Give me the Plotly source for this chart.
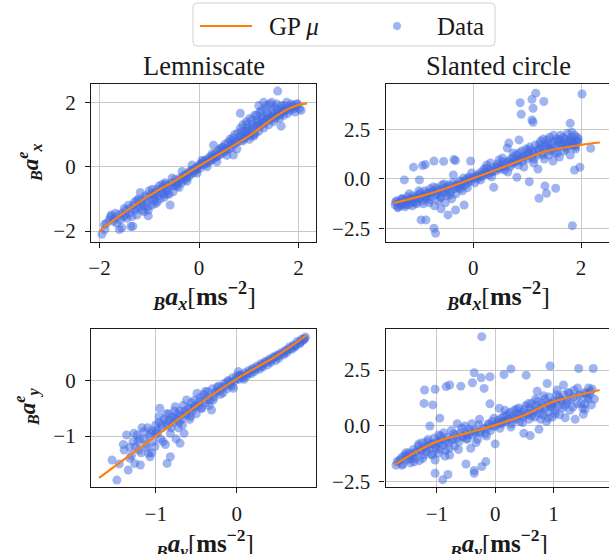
import plotly.graph_objects as go

# ---------------- data ----------------
# Panel 1: Lemniscate, x-axis (B a_x -> B a_x^e)
lem_x_data = [-1.95,-1.89,-1.86,-1.76,-1.7,-1.65,-1.6,-1.55,-1.55,-1.5,-1.45,-1.42,-1.4,-1.37,-1.33,-1.3,-1.28,-1.25,-1.22,-1.2,-1.18,-1.15,-1.1,-1.08,-1.05,-1.02,-1.02,-1.0,-0.98,-0.95,-0.92,-0.9,-0.88,-0.85,-0.82,-0.8,-0.78,-0.75,-0.72,-0.7,-0.68,-0.65,-0.62,-0.6,-0.58,-0.55,-0.52,-0.5,-0.48,-0.45,-0.42,-0.4,-0.38,-0.35,-0.32,-0.3,-0.28,-0.25,-0.22,-0.2,-0.18,-0.15,-0.12,-0.1,-0.08,-0.05,-0.03,0.0,0.02,0.05,0.08,0.1,0.12,0.15,0.18,0.2,0.22,0.25,0.28,0.29,0.3,0.33,0.35,0.38,0.4,0.42,0.45,0.48,0.5,0.52,0.55,0.58,0.6,0.62,0.65,0.68,0.69,0.7,0.72,0.75,0.78,0.8,0.83,0.83,0.85,0.88,0.9,0.92,0.95,0.95,0.98,1.0,1.02,1.05,1.08,1.1,1.12,1.15,1.18,1.2,1.2,1.22,1.25,1.28,1.3,1.3,1.33,1.35,1.38,1.4,1.42,1.45,1.48,1.5,1.52,1.55,1.58,1.6,1.62,1.65,1.68,1.7,1.75,1.8,1.85,1.9,1.95,2.02,
              -1.8,-1.72,-1.62,-1.52,-1.47,-1.38,-1.32,-1.26,-1.16,-1.12,-1.06,-0.96,-0.9,-0.86,-0.76,-0.7,-0.66,-0.56,-0.46,-0.36,-0.26,-0.16,-0.06,0.04,0.14,0.24,0.34,0.44,0.54,0.64,0.74,0.82,0.87,0.93,0.97,1.03,1.07,1.13,1.17,1.23,1.27,1.33,1.37,1.43,1.47,1.53,1.57,1.63,1.67,1.72,1.78,1.83,1.88,1.93,1.98,2.05]
lem_x_err = [-2.1,-1.95,-1.76,-1.5,-1.6,-1.75,-1.95,-1.9,-1.45,-1.3,-1.6,-1.2,-1.45,-1.86,-1.85,-1.1,-1.35,-1.5,-1.0,-1.25,-0.8,-1.15,-1.4,-0.9,-1.1,-1.53,-1.35,-0.75,-1.0,-1.2,-0.85,-0.95,-1.15,-0.7,-0.9,-0.6,-1.0,-0.8,-0.65,-0.95,-0.5,-0.75,-0.6,-0.85,-1.19,-0.5,-0.78,-0.6,-0.4,-0.55,-0.45,-0.65,-0.35,-0.5,-0.3,-0.42,-0.25,-0.35,-0.2,-0.3,-0.15,-0.22,-0.1,-0.18,-0.05,-0.1,0.0,0.05,-0.05,0.1,0.15,0.05,0.2,0.1,0.25,0.15,0.3,0.2,0.35,0.67,0.25,0.4,0.3,0.5,0.35,0.55,0.4,0.6,0.45,0.7,0.5,0.75,0.55,0.85,0.6,0.9,0.36,0.7,1.0,0.75,1.05,0.8,1.66,1.2,0.9,1.3,0.85,1.1,1.4,0.95,1.2,1.0,1.5,1.15,1.3,0.95,1.6,1.25,1.45,1.9,1.1,1.7,1.35,1.55,2.0,1.2,1.8,1.45,1.65,1.3,1.95,1.55,1.75,1.4,1.85,1.6,2.35,1.7,1.5,1.26,1.8,1.6,1.75,1.85,1.95,1.8,1.85,1.8,
             -1.65,-1.7,-1.5,-1.55,-1.35,-1.3,-1.2,-1.3,-1.05,-1.2,-0.95,-0.85,-1.05,-0.8,-0.7,-0.85,-0.55,-0.6,-0.5,-0.4,-0.28,-0.12,-0.08,0.08,0.15,0.22,0.32,0.48,0.55,0.7,0.8,0.95,0.8,1.05,1.1,0.95,1.2,1.05,1.35,1.25,1.5,1.4,1.55,1.45,1.65,1.5,1.8,1.65,1.7,1.9,1.65,1.75,1.9,1.7,1.95,1.75]
lem_x_data_b = [-1.9,-1.78,-1.68,-1.58,-1.48,-1.35,-1.24,-1.14,-1.04,-0.94,-0.84,-0.74,-0.64,-0.54,-0.44,-0.34,-0.24,-0.14,-0.04,0.06,0.16,0.26,0.36,0.46,0.56,0.66,0.76,0.86,0.91,0.96,1.01,1.06,1.11,1.16,1.21,1.26,1.31,1.36,1.41,1.46,1.51,1.56,1.61,1.66,1.71,1.76,1.86,1.96]
lem_x_err_b = [-1.8,-1.55,-1.45,-1.65,-1.5,-1.55,-1.05,-1.35,-1.25,-0.7,-1.1,-0.55,-0.85,-0.35,-0.6,-0.15,-0.45,0.05,-0.2,0.2,0.0,0.4,0.15,0.6,0.35,0.8,0.55,1.1,0.9,1.3,0.85,1.45,1.0,1.6,1.3,1.75,1.35,1.9,1.5,2.0,1.55,1.95,1.6,1.9,1.75,2.0,1.85,1.95]
lem_x_gp_in = [-2.0,-1.5,-1.0,-0.5,0.0,0.5,1.0,1.5,1.8,2.0,2.17]
lem_x_gp_mu = [-2.0,-1.42,-0.9,-0.45,0.02,0.48,0.95,1.52,1.8,1.92,1.97]

# Panel 2: Slanted circle, x-axis
sc_x_data = [-1.45,-1.42,-1.4,-1.38,-1.35,-1.32,-1.3,-1.28,-1.27,-1.25,-1.22,-1.2,-1.18,-1.15,-1.12,-1.11,-1.1,-1.08,-1.05,-1.02,-1.0,-1.0,-0.98,-0.97,-0.95,-0.94,-0.92,-0.9,-0.89,-0.88,-0.88,-0.85,-0.82,-0.8,-0.78,-0.75,-0.73,-0.73,-0.72,-0.7,-0.7,-0.68,-0.65,-0.62,-0.6,-0.6,-0.58,-0.55,-0.55,-0.52,-0.5,-0.48,-0.47,-0.45,-0.42,-0.4,-0.38,-0.36,-0.35,-0.33,-0.33,-0.32,-0.3,-0.28,-0.25,-0.22,-0.2,-0.18,-0.17,-0.15,-0.12,-0.1,-0.08,-0.05,-0.05,0.0,0.03,0.05,0.08,0.1,0.12,0.15,0.18,0.2,0.22,0.25,0.28,0.3,0.32,0.35,0.38,0.4,0.42,0.45,0.48,0.5,0.52,0.55,0.58,0.6,0.63,0.65,0.66,0.68,0.7,0.72,0.75,0.78,0.8,0.81,0.83,0.85,0.85,0.87,0.88,0.89,0.9,0.92,0.95,0.98,1.0,1.02,1.04,1.05,1.08,1.09,1.09,1.1,1.11,1.11,1.12,1.15,1.16,1.18,1.2,1.22,1.22,1.25,1.28,1.3,1.31,1.32,1.33,1.35,1.36,1.38,1.4,1.42,1.45,1.48,1.5,1.52,1.53,1.55,1.58,1.6,1.62,1.65,1.68,1.7,1.72,1.75,1.78,1.8,1.8,1.82,1.84,1.85,1.88,1.88,1.9,1.92,1.95,1.98,2.02,2.18,
             -1.44,-1.36,-1.3,-1.24,-1.16,-1.06,-0.96,-0.86,-0.76,-0.66,-0.56,-0.46,-0.36,-0.26,-0.16,-0.06,0.06,0.16,0.26,0.36,0.46,0.56,0.62,0.72,0.82,0.92,1.02,1.12,1.2,1.26,1.34,1.4,1.46,1.52,1.58,1.64,1.7,1.76,1.82,1.86,1.9,1.94]
sc_x_err = [-1.3,-1.1,-1.45,-1.2,-1.35,-1.0,-1.25,-0.05,-1.4,-1.1,-0.9,-1.3,-1.05,-1.2,-0.85,0.59,-1.15,-0.95,-1.25,-0.8,-0.05,-1.0,-0.7,-2.06,-1.1,0.67,-0.85,-0.6,0.72,-2.06,-1.0,-0.75,-1.2,-0.5,-0.9,-0.65,0.9,-2.48,-1.35,-2.73,-0.8,-0.45,-1.1,-0.6,-1.5,-0.9,-0.3,0.88,-0.7,-1.2,-0.45,-0.85,-1.81,-0.3,-0.6,-1.0,-0.2,0.97,-0.5,0.92,-1.56,-0.75,-0.25,-0.45,-0.1,-0.35,-0.6,-0.15,-1.31,-0.3,0.0,-0.2,0.1,0.9,-0.1,0.05,-0.2,0.15,0.0,0.25,0.1,0.35,0.15,0.5,0.3,0.7,0.2,0.45,0.8,0.35,-0.42,0.6,0.4,0.75,0.95,0.5,0.65,0.85,0.45,0.7,1.55,0.9,1.8,0.6,1.0,0.75,1.1,0.85,1.2,0.08,0.95,1.96,1.3,3.83,1.05,3.25,1.4,0.9,1.15,1.5,1.0,1.3,-0.14,1.6,1.1,4.0,2.96,1.4,3.55,2.85,0.8,1.7,4.31,1.2,0.5,-0.97,1.5,1.9,1.3,2.0,3.89,1.0,-0.35,1.6,-0.72,1.8,1.2,2.1,1.5,0.9,1.9,1.3,-0.47,2.0,1.6,1.1,2.2,1.8,1.4,2.0,1.6,2.3,1.9,2.8,1.2,2.1,-2.35,1.7,0.45,2.2,1.5,1.9,2.0,0.59,4.27,1.54,
            -1.15,-1.25,-1.05,-1.2,-1.0,-0.95,-0.9,-0.7,-0.65,-0.55,-0.5,-0.4,-0.35,-0.3,-0.1,0.0,0.1,0.2,0.3,0.4,0.55,0.6,0.8,0.85,0.9,1.1,1.2,1.3,1.45,1.6,1.7,1.55,1.75,1.6,1.85,1.7,1.8,1.65,1.9,1.75,1.7,1.85]
sc_x_data_b = [-1.4,-1.33,-1.26,-1.19,-1.13,-1.07,-1.01,-0.93,-0.87,-0.81,-0.74,-0.67,-0.61,-0.54,-0.49,-0.43,-0.37,-0.31,-0.24,-0.18,-0.11,-0.03,0.14,0.24,0.34,0.44,0.54,0.64,0.74,0.84,0.94,1.03,1.13,1.23,1.29,1.37,1.43,1.49,1.56,1.61,1.67,1.73,1.79,1.83,1.89,1.93]
sc_x_err_b = [-1.4,-1.0,-1.3,-0.75,-1.35,-1.2,-0.6,-1.25,-0.9,-1.05,-0.4,-0.75,-0.95,-0.25,-0.65,-0.8,0.2,-0.35,-0.5,0.05,-0.45,0.3,-0.05,0.55,0.1,0.6,1.05,0.35,1.3,0.7,0.6,1.45,1.0,1.75,1.2,1.95,1.4,2.2,1.3,1.95,2.1,1.5,1.95,2.35,1.6,2.1]
sc_x_gp_in = [-1.48,-1.0,-0.5,0.0,0.66,1.0,1.33,2.0,2.35]
sc_x_gp_mu = [-1.22,-0.89,-0.47,0.03,0.70,1.05,1.37,1.71,1.83]

# Panel 3: Lemniscate, y-axis
lem_y_data = [-1.54,-1.48,-1.39,-1.36,-1.34,-1.3,-1.28,-1.26,-1.25,-1.23,-1.2,-1.19,-1.18,-1.15,-1.12,-1.1,-1.09,-1.08,-1.07,-1.05,-1.03,-1.01,-1.0,-0.98,-0.96,-0.95,-0.94,-0.92,-0.9,-0.88,-0.86,-0.85,-0.84,-0.82,-0.82,-0.8,-0.78,-0.76,-0.75,-0.73,-0.72,-0.7,-0.7,-0.68,-0.66,-0.65,-0.63,-0.6,-0.58,-0.56,-0.55,-0.52,-0.5,-0.49,-0.47,-0.45,-0.43,-0.4,-0.38,-0.36,-0.33,-0.31,-0.3,-0.28,-0.25,-0.22,-0.2,-0.18,-0.15,-0.12,-0.1,-0.08,-0.05,-0.04,-0.02,0.0,0.02,0.03,0.05,0.08,0.1,0.12,0.15,0.18,0.2,0.22,0.25,0.28,0.3,0.32,0.35,0.38,0.4,0.42,0.45,0.48,0.5,0.52,0.55,0.58,0.6,0.62,0.65,0.68,0.7,0.72,0.75,0.78,0.8,0.82,0.85,
              -1.32,-1.22,-1.14,-1.06,-0.99,-0.93,-0.87,-0.83,-0.77,-0.74,-0.69,-0.64,-0.61,-0.57,-0.53,-0.46,-0.41,-0.35,-0.27,-0.21,-0.14,-0.07,0.01,0.07,0.13,0.19,0.27,0.33,0.41,0.47,0.53,0.61,0.67,0.73,0.79,0.83]
lem_y_err = [-1.43,-1.79,-1.25,-0.98,-1.61,-1.35,-1.1,-1.49,-1.2,-0.98,-1.05,-1.52,-1.3,-0.92,-1.15,-0.85,-1.31,-1.0,-1.37,-0.9,-1.1,-1.19,-0.8,-0.95,-0.75,-0.5,-1.05,-0.85,-0.7,-1.15,-1.49,-0.8,-0.6,-1.37,-0.95,-0.65,-0.75,-0.47,-1.05,-0.6,-0.85,-1.13,-0.55,-0.7,-0.45,-0.95,-0.6,-0.5,-0.7,-0.4,-0.55,-0.35,-0.6,-0.23,-0.45,-0.3,-0.5,-0.25,-0.4,-0.2,-0.35,-0.53,-0.15,-0.3,-0.2,-0.1,-0.25,-0.12,-0.05,-0.15,0.0,-0.08,0.05,-0.14,0.0,0.08,0.16,0.02,0.1,0.05,0.14,0.08,0.18,0.12,0.22,0.16,0.26,0.2,0.3,0.24,0.34,0.28,0.38,0.32,0.42,0.36,0.46,0.4,0.5,0.46,0.54,0.5,0.6,0.56,0.64,0.6,0.7,0.66,0.74,0.72,0.78,
             -1.2,-1.1,-1.05,-0.95,-0.9,-0.8,-0.75,-0.72,-0.68,-0.7,-0.62,-0.55,-0.62,-0.5,-0.48,-0.38,-0.35,-0.3,-0.22,-0.18,-0.1,-0.03,0.04,0.07,0.12,0.19,0.24,0.3,0.36,0.42,0.46,0.53,0.58,0.63,0.69,0.74]
lem_y_data_b = [-1.45,-1.4,-1.32,-1.27,-1.21,-1.17,-1.11,-1.05,-1.0,-0.96,-0.91,-0.87,-0.81,-0.77,-0.71,-0.67,-0.62,-0.57,-0.51,-0.44,-0.39,-0.34,-0.29,-0.24,-0.17,-0.11,-0.06,0.04,0.09,0.16,0.23,0.31,0.37,0.44,0.51,0.57,0.64,0.71,0.77,0.84]
lem_y_err_b = [-1.5,-1.15,-1.4,-0.95,-1.25,-0.85,-1.2,-1.3,-0.95,-0.65,-1.1,-0.6,-0.85,-0.55,-0.75,-0.8,-0.35,-0.65,-0.45,-0.5,-0.2,-0.45,-0.35,-0.12,-0.22,-0.02,-0.1,0.1,0.02,0.14,0.2,0.26,0.33,0.38,0.44,0.49,0.56,0.62,0.68,0.75]
lem_y_gp_in = [-1.7,-1.0,-0.5,0.0,0.5,0.86]
lem_y_gp_mu = [-1.75,-1.0,-0.46,0.03,0.45,0.81]

# Panel 4: Slanted circle, y-axis
sc_y_data = [-1.7,-1.65,-1.6,-1.58,-1.55,-1.5,-1.48,-1.45,-1.42,-1.4,-1.38,-1.35,-1.32,-1.3,-1.28,-1.25,-1.22,-1.22,-1.21,-1.2,-1.18,-1.15,-1.12,-1.12,-1.1,-1.08,-1.07,-1.05,-1.03,-1.03,-1.03,-1.02,-1.0,-0.98,-0.97,-0.95,-0.95,-0.92,-0.9,-0.9,-0.88,-0.85,-0.84,-0.82,-0.81,-0.8,-0.78,-0.78,-0.75,-0.72,-0.7,-0.68,-0.65,-0.62,-0.6,-0.59,-0.55,-0.52,-0.5,-0.5,-0.48,-0.45,-0.42,-0.4,-0.39,-0.38,-0.36,-0.36,-0.36,-0.35,-0.3,-0.28,-0.25,-0.24,-0.23,-0.23,-0.2,-0.19,-0.16,-0.15,-0.12,-0.09,-0.09,-0.08,-0.05,0.0,0.0,0.05,0.07,0.08,0.1,0.12,0.15,0.15,0.18,0.2,0.22,0.25,0.27,0.28,0.3,0.32,0.35,0.38,0.4,0.42,0.45,0.48,0.49,0.5,0.52,0.53,0.55,0.58,0.6,0.6,0.62,0.65,0.68,0.7,0.72,0.72,0.75,0.75,0.78,0.8,0.82,0.85,0.86,0.88,0.89,0.9,0.92,0.94,0.95,0.98,1.0,1.02,1.05,1.06,1.08,1.1,1.12,1.15,1.17,1.18,1.2,1.22,1.25,1.28,1.3,1.35,1.37,1.4,1.43,1.45,1.5,1.51,1.54,1.54,1.58,1.6,1.63,1.65,1.68,1.7,
             -1.62,-1.52,-1.44,-1.36,-1.26,-1.16,-1.06,-0.96,-0.86,-0.76,-0.66,-0.56,-0.46,-0.34,-0.26,-0.14,-0.04,0.04,0.14,0.24,0.34,0.44,0.56,0.66,0.76,0.84,0.92,0.97,1.04,1.14,1.24,1.34,1.44,1.56,1.62]
sc_y_err = [-1.75,-1.55,-1.4,-1.7,-1.3,-1.5,-1.2,-1.65,-1.35,-1.05,-1.45,-1.2,-0.9,-1.55,-1.1,-0.75,1.01,-1.3,1.61,-0.95,-1.15,-0.6,0.0,-1.0,-0.8,-1.3,0.94,-0.55,1.64,-2.11,-1.52,-0.9,-0.7,-1.22,-0.4,0.35,-1.05,-0.6,-2.4,-0.85,-0.3,-1.1,1.76,-0.5,-2.17,-0.75,1.83,-1.3,-0.2,-0.6,-0.9,-0.4,0.1,-0.7,-0.3,1.78,-0.5,0.0,-1.7,-0.35,-0.6,-0.15,-1.0,0.1,1.93,-0.4,2.38,-1.99,-2.11,-0.2,-0.6,0.05,-0.3,2.15,3.99,-1.81,-0.1,1.68,-1.59,-0.45,0.1,2.2,0.99,-0.2,0.2,-0.8,0.0,0.25,0.79,-0.1,0.35,0.1,2.3,0.45,0.2,0.5,0.3,0.6,2.55,0.1,0.45,0.7,0.3,0.55,0.8,0.2,0.6,0.4,-0.33,0.75,0.9,2.27,0.5,0.3,-0.43,0.8,1.0,0.6,0.4,0.9,1.55,1.1,-0.15,0.7,0.3,1.0,0.5,1.2,0.8,0.2,1.9,0.6,1.3,2.68,0.9,0.4,1.1,0.7,1.4,1.61,0.9,0.5,1.2,0.8,1.83,1.4,0.37,1.0,1.5,0.7,1.2,1.6,0.3,1.0,2.57,1.4,0.8,0.52,0.74,1.01,1.3,1.7,1.55,0.94,2.57,1.2,
            -1.5,-1.35,-1.25,-1.15,-1.05,-0.9,-0.8,-0.75,-0.7,-0.6,-0.55,-0.45,-0.4,-0.3,-0.25,-0.1,0.0,0.1,0.2,0.3,0.35,0.5,0.55,0.7,0.8,0.9,1.0,0.85,1.05,1.15,1.1,1.3,1.35,1.45,1.4]
sc_y_data_b = [-1.68,-1.6,-1.53,-1.46,-1.39,-1.31,-1.24,-1.17,-1.09,-1.01,-0.93,-0.86,-0.79,-0.71,-0.63,-0.57,-0.49,-0.41,-0.33,-0.27,-0.17,-0.11,-0.02,0.09,0.17,0.27,0.37,0.47,0.57,0.63,0.69,0.77,0.83,0.91,0.96,1.03,1.09,1.19,1.27,1.33,1.41,1.47,1.53,1.59,1.66]
sc_y_err_b = [-1.6,-1.75,-1.2,-1.45,-1.6,-0.8,-1.45,-0.7,-1.25,-1.0,-0.45,-1.35,-1.0,-0.35,-1.05,-0.1,-0.55,-0.25,-0.75,0.3,-0.35,0.05,0.35,0.15,0.7,-0.05,0.75,0.15,1.0,0.45,1.2,0.55,1.35,0.35,1.0,0.55,1.3,0.9,1.45,0.85,1.7,1.0,1.5,1.2,1.65]
sc_y_gp_in = [-1.72,-1.4,-1.0,-0.5,0.0,0.5,1.0,1.5,1.79]
sc_y_gp_mu = [-1.74,-1.22,-0.70,-0.33,0.04,0.49,1.09,1.43,1.61]

titles = ["Lemniscate", "Slanted circle"]
legend_names = ["GP <i>μ</i>", "Data"]

# ---------------- figure ----------------
W, H = 609, 554
FONT = "Liberation Serif"
INK = "#1a1a1a"
BLUE = "rgba(65,105,225,0.5)"
ORANGE = "#ff7f0e"

fig = go.Figure()

panels = [
    (lem_x_data + lem_x_data_b, lem_x_err + lem_x_err_b, lem_x_gp_in, lem_x_gp_mu, "x", "y"),
    (sc_x_data + sc_x_data_b, sc_x_err + sc_x_err_b, sc_x_gp_in, sc_x_gp_mu, "x2", "y2"),
    (lem_y_data + lem_y_data_b, lem_y_err + lem_y_err_b, lem_y_gp_in, lem_y_gp_mu, "x3", "y3"),
    (sc_y_data + sc_y_data_b, sc_y_err + sc_y_err_b, sc_y_gp_in, sc_y_gp_mu, "x4", "y4"),
]
for i, (dx, dy, gx, gy, xa, ya) in enumerate(panels):
    fig.add_trace(go.Scatter(x=dx, y=dy, mode="markers", xaxis=xa, yaxis=ya,
                             marker=dict(color=BLUE, size=9, line=dict(width=0)),
                             name=legend_names[1], showlegend=False))
    fig.add_trace(go.Scatter(x=gx, y=gy, mode="lines", xaxis=xa, yaxis=ya,
                             line=dict(color=ORANGE, width=2.2, shape="spline"),
                             name=legend_names[0], showlegend=False))

def px_x(p):
    return p / W

def px_y(p):
    return 1 - p / H

colL = [px_x(91), px_x(316)]
colR = [px_x(385.5), 1.0]
rowT = [px_y(242), px_y(84)]
rowB = [px_y(487.3), px_y(329.3)]

axis_common = dict(showgrid=True, gridcolor="#c8c8c8", gridwidth=1,
                   showline=True, linecolor=INK, linewidth=1.2,
                   ticks="outside", ticklen=5, tickwidth=1.2, tickcolor=INK,
                   zeroline=False, tickfont=dict(family=FONT, size=21, color=INK))
xcommon = dict(ticklabelstandoff=2, **axis_common)
ycommon = dict(ticklabelstandoff=5, **axis_common)

fig.update_layout(
    width=W, height=H, margin=dict(l=0, r=0, t=0, b=0, autoexpand=False),
    paper_bgcolor="white", plot_bgcolor="white", showlegend=False,
    font=dict(family=FONT, size=21, color=INK),
    xaxis=dict(domain=colL, range=[-2.17, 2.35], tickvals=[-2, 0, 2], mirror=True, anchor="y", **xcommon),
    yaxis=dict(domain=rowT, range=[-2.34, 2.57], tickvals=[-2, 0, 2], mirror=True, anchor="x", **ycommon),
    xaxis2=dict(domain=colR, range=[-1.63, 2.52], tickvals=[0, 2], mirror=True, anchor="y2", **xcommon),
    yaxis2=dict(domain=rowT, range=[-3.17, 4.77], tickvals=[-2.5, 0, 2.5], tickformat=".1f", mirror=False, anchor="x2", **ycommon),
    xaxis3=dict(domain=colL, range=[-1.80, 0.98], tickvals=[-1, 0], mirror=True, anchor="y3", **xcommon),
    yaxis3=dict(domain=rowB, range=[-1.92, 0.92], tickvals=[-1, 0], mirror=True, anchor="x3", **ycommon),
    xaxis4=dict(domain=colR, range=[-1.88, 1.95], tickvals=[-1, 0, 1], mirror=True, anchor="y4", **xcommon),
    yaxis4=dict(domain=rowB, range=[-2.74, 4.32], tickvals=[-2.5, 0, 2.5], tickformat=".1f", mirror=False, anchor="x4", **ycommon),
)

xlab = "<sub><b><i>B</i></b></sub><b><i>a</i><sub><i>%s</i></sub></b>[<b>ms<sup>−2</sup></b>]"
ylab = "<sub><b><i>B</i></b></sub><b><i>a</i></b><sup><b><i>e</i></b></sup><sub><b><i>%s</i></b></sub>"

def A(text, x, y, size, angle=0, xanchor="center"):
    return dict(text=text, x=px_x(x), y=px_y(y), xref="paper", yref="paper",
                xanchor=xanchor, yanchor="middle", textangle=angle, showarrow=False,
                font=dict(family=FONT, size=size, color=INK))

ann = [A(titles[0], 203.5, 66, 26.5), A(titles[1], 498, 66, 26.5)]
for cx, cy, comp, sz in [(204, 296, "x", 26), (498, 296, "x", 26), (204, 543, "y", 25), (498, 543, "y", 25)]:
    ann.append(A(xlab % comp, cx, cy, sz))
for cx, cy, comp in [(30, 163, "x"), (27, 407, "y")]:
    ann.append(A(ylab % comp, cx, cy, 23, angle=-90))

# legend box drawn in paper space
ann.append(A(legend_names[0], 267, 26, 25, xanchor="left"))
ann.append(A(legend_names[1], 435, 26, 25, xanchor="left"))
shapes = [
    dict(type="path", xref="paper", yref="paper",
         path="M %f,%f L %f,%f Q %f,%f %f,%f L %f,%f Q %f,%f %f,%f L %f,%f Q %f,%f %f,%f L %f,%f Q %f,%f %f,%f Z" % (
             px_x(197), px_y(3), px_x(491), px_y(3), px_x(495), px_y(3), px_x(495), px_y(7),
             px_x(495), px_y(42), px_x(495), px_y(46), px_x(491), px_y(46),
             px_x(197), px_y(46), px_x(193), px_y(46), px_x(193), px_y(42),
             px_x(193), px_y(7), px_x(193), px_y(3), px_x(197), px_y(3)),
         line=dict(color="#d0d0d0", width=1), fillcolor="rgba(255,255,255,0.8)", layer="above"),
    dict(type="line", xref="paper", yref="paper", x0=px_x(200), x1=px_x(252), y0=px_y(26), y1=px_y(26),
         line=dict(color=ORANGE, width=2.2), layer="above"),
    dict(type="circle", xref="paper", yref="paper", x0=px_x(393), x1=px_x(401), y0=px_y(30), y1=px_y(22),
         line=dict(width=0), fillcolor=BLUE, layer="above"),
]
fig.update_layout(annotations=ann, shapes=shapes)

fig.write_html("out.html", config={"displayModeBar": False},
               post_script="document.body.style.margin='0px';document.body.style.overflow='hidden';")
